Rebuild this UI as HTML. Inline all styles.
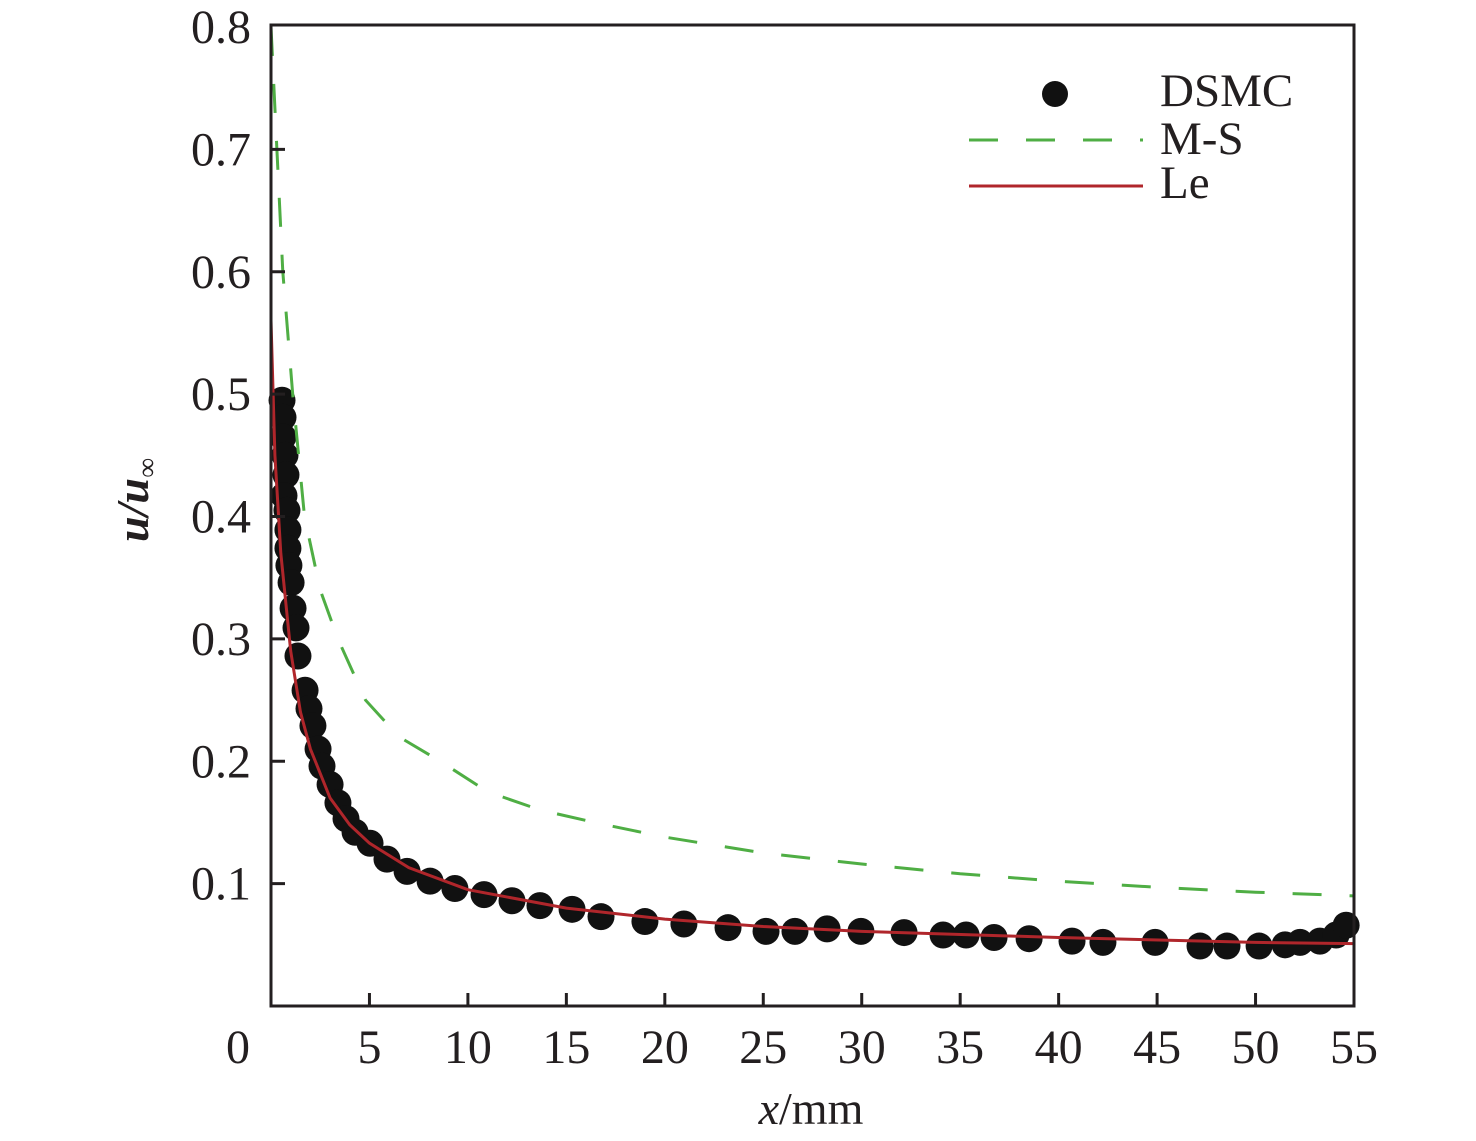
<!DOCTYPE html>
<html><head><meta charset="utf-8"><style>
html,body{margin:0;padding:0;background:#fff;}
svg{display:block;font-family:"Liberation Serif",serif;}
</style></head><body>
<svg id="chart" width="1476" height="1141" viewBox="0 0 1476 1141">
<g id="marks"></g>
<rect x="271" y="25" width="1083" height="981" fill="none" stroke="#231f20" stroke-width="3"/>
<g id="axes"></g>
<text x="811" y="1124" font-size="46" text-anchor="middle" fill="#231f20"><tspan font-style="italic">x</tspan>/mm</text>
<text transform="translate(148,500) rotate(-90)" font-size="46" text-anchor="middle" fill="#231f20" font-weight="bold" font-style="italic">u/u<tspan font-size="28" dy="8">∞</tspan></text>
<g>
<circle cx="1055" cy="94" r="13" fill="#111"/>
<text x="1160" y="106" font-size="47" fill="#231f20">DSMC</text>
<line x1="969" y1="140" x2="1143" y2="140" stroke="#4fae44" stroke-width="3" stroke-dasharray="29,28"/>
<text x="1160" y="154" font-size="47" fill="#231f20">M-S</text>
<line x1="969" y1="186" x2="1143" y2="186" stroke="#b0262b" stroke-width="3"/>
<text x="1160" y="198" font-size="47" fill="#231f20">Le</text>
</g>
</svg>
<script>
const xTicks = [0,5,10,15,20,25,30,35,40,45,50,55];
const yTicks = [0.1,0.2,0.3,0.4,0.5,0.6,0.7,0.8];
const dsmcX = [0.56,0.61,0.61,0.71,0.76,0.66,0.81,0.86,0.86,0.91,1.02,1.12,1.27,1.37,1.73,1.93,2.13,2.39,2.59,3.0,3.4,3.81,4.27,5.03,5.89,6.91,8.08,9.34,10.82,12.24,13.66,15.29,16.76,18.99,20.97,23.21,25.14,26.61,28.24,29.96,32.15,34.13,35.3,36.72,38.5,40.68,42.25,44.9,47.18,48.55,50.18,51.5,52.26,53.27,54.09,54.6];
const dsmcY = [0.495,0.481,0.465,0.45,0.434,0.417,0.405,0.389,0.374,0.36,0.346,0.325,0.309,0.286,0.258,0.243,0.229,0.21,0.196,0.181,0.166,0.153,0.142,0.133,0.12,0.11,0.102,0.096,0.091,0.086,0.082,0.079,0.073,0.069,0.067,0.064,0.061,0.061,0.063,0.061,0.06,0.058,0.058,0.056,0.055,0.053,0.052,0.052,0.049,0.049,0.049,0.05,0.052,0.053,0.058,0.066];
const msX = [0,0.3,0.6,1.1,1.7,2.5,3.4,4.8,6.5,8.6,11,13.7,17,20,25,30,35,40,45,50,55];
const msY = [0.8,0.7,0.6,0.5,0.4,0.34,0.3,0.25,0.22,0.2,0.175,0.16,0.148,0.138,0.125,0.116,0.108,0.102,0.097,0.093,0.09];
const leX = [0,0.2,0.5,1,1.5,2,3,4,5,7,10,15,20,25,30,40,50,55];
const leY = [0.56,0.45,0.37,0.29,0.24,0.21,0.17,0.148,0.133,0.113,0.095,0.08,0.071,0.065,0.061,0.056,0.052,0.051];

const NS='http://www.w3.org/2000/svg';
const X0=271,X1=1354,Y0=1006,Y1=27;
function sx(v){return X0+v/55*(X1-X0);}
function sy(v){return Y0-v/0.8*(Y0-Y1);}
function mk(t,a,p){const e=document.createElementNS(NS,t);for(const k in a)e.setAttribute(k,a[k]);p.appendChild(e);return e;}
const axes=document.getElementById('axes'), marks=document.getElementById('marks');
xTicks.forEach(v=>{
  if(v>0&&v<55){const t=mk('line',{x1:sx(v),x2:sx(v),y1:Y0,y2:Y0-13,stroke:'#231f20','stroke-width':3},axes);
  
  }
  const lx = v===0 ? 238 : sx(v);
  const l=mk('text',{x:lx,y:1063,'font-size':48,'text-anchor':'middle',fill:'#231f20'},axes);
  
  
  l.textContent=String(v);
});
yTicks.forEach(v=>{
  if(v<0.8){const t=mk('line',{x1:X0,x2:X0+14,y1:sy(v),y2:sy(v),stroke:'#231f20','stroke-width':3},axes);
  
  }
  const l=mk('text',{x:251,y:sy(v)+16,'font-size':48,'text-anchor':'end',fill:'#231f20'},axes);
  
  
  l.textContent=v.toFixed(1);
});
function path(xs,ys){return xs.map((x,i)=>(i?'L':'M')+sx(x).toFixed(1)+','+sy(ys[i]).toFixed(1)).join(' ');}
dsmcX.forEach((x,i)=>{
  const c=mk('circle',{cx:sx(x),cy:sy(dsmcY[i]),r:13.5,fill:'#111'},marks);
  
  
});
const ms=mk('path',{d:path(msX,msY),fill:'none',stroke:'#4fae44','stroke-width':3,'stroke-dasharray':'29,28'},marks);


const le=mk('path',{d:path(leX,leY),fill:'none',stroke:'#b0262b','stroke-width':3},marks);


</script>
</body></html>
